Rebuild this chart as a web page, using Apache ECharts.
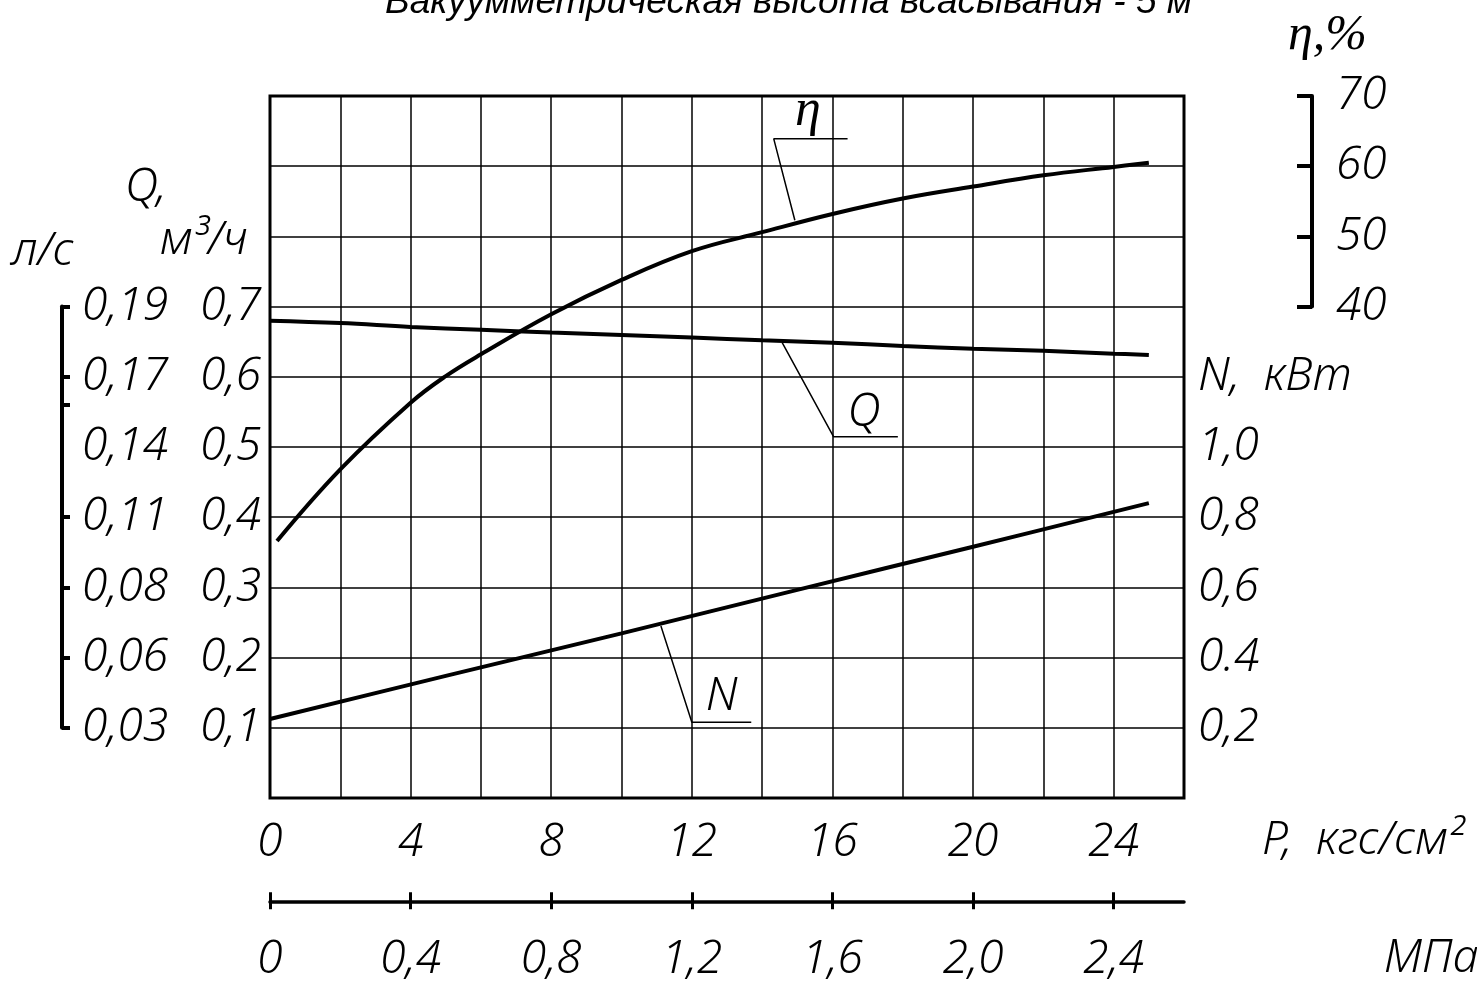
<!DOCTYPE html>
<html>
<head>
<meta charset="utf-8">
<script src="https://cdn.jsdelivr.net/npm/echarts@6/dist/echarts.min.js"></script>
<style>
  html, body { margin: 0; padding: 0; background: #fff; }
  #chart { width: 1477px; height: 981px; }
</style>
</head>
<body>
<div id="chart"></div>
<script>
// КПД, %
const etaP = [0.2, 2, 4, 5, 6, 8, 10, 12, 14, 16, 18, 20, 22, 24, 25]
const etaVal = [6.6, 16.8, 26.3, 30.1, 33.2, 38.9, 43.8, 47.9, 50.6, 53.2, 55.4, 57.1, 58.7, 59.9, 60.5]
// подача Q, м3/ч
const qP = [0, 2, 4, 6, 8, 10, 12, 14, 16, 18, 20, 22, 24, 25]
const qVal = [0.68, 0.6765, 0.671, 0.667, 0.663, 0.6595, 0.656, 0.652, 0.6486, 0.644, 0.64, 0.637, 0.633, 0.631]
// мощность N, кВт
const nP = [0, 5, 10, 15, 20, 25]
const nVal = [0.225, 0.348, 0.469, 0.593, 0.716, 0.84]

// шкалы
const pTicks = [0, 4, 8, 12, 16, 20, 24]
const pLabels = ['0', '4', '8', '12', '16', '20', '24']
const mpaTicks = [0, 0.4, 0.8, 1.2, 1.6, 2.0, 2.4]
const mpaLabels = ['0', '0,4', '0,8', '1,2', '1,6', '2,0', '2,4']
const qTicks = [0.1, 0.2, 0.3, 0.4, 0.5, 0.6, 0.7]
const qLabels = ['0,1', '0,2', '0,3', '0,4', '0,5', '0,6', '0,7']
const lsLabels = ['0,03', '0,06', '0,08', '0,11', '0,14', '0,17', '0,19']
const lsTicks = [0.1, 0.2, 0.3, 0.4, 0.56, 0.6, 0.7]
const nTicks = [0.2, 0.4, 0.6, 0.8, 1.0, 1.2]
const nLabels = ['0,2', '0.4', '0,6', '0,8', '1,0', 'N,  кВт']
const etaTicks = [40, 50, 60, 70]
const etaLabels = ['40', '50', '60', '70']

// выноски: [P, значение]
const etaLeader = [[14.93, 52.3], [14.33, 63.9], [16.43, 63.9]]
const qLeader = [[14.57, 0.6486], [16.03, 0.5147], [17.86, 0.5147]]
const nLeader = [[11.12, 0.49], [12.0, 0.2157], [13.69, 0.2157]]
const etaTag = [15.3, 67.8]
const qTag = [16.9, 0.548]
const nTag = [12.85, 0.288]

const gost = "'Noto Sans', 'DejaVu Sans Condensed', sans-serif"
const gostWeight = '300 condensed'
const serif = "'Liberation Serif', 'DejaVu Serif', serif"

const pick = (ticks, labels) => (v) => {
  const i = ticks.findIndex((t) => Math.abs(t - v) < 1e-6)
  return i < 0 ? '' : labels[i]
}
const zip = (xs, ys) => xs.map((x, i) => [x, ys[i]])

const txt = {
  color: '#000',
  fontFamily: gost,
  fontStyle: 'italic',
  fontWeight: gostWeight,
  fontSize: 46
}
const gfont = `italic ${gostWeight} 46px ${gost}`
const thick = { color: '#000', width: 4 }
const thin = { color: '#000', width: 1.5 }
const hidden = { color: 'transparent', opacity: 1 }

const chart = echarts.init(document.getElementById('chart'))
const option = {
  animation: false,
  backgroundColor: '#fff',
  title: {
    text: 'Вакуумметрическая высота всасывания - 5 м',
    left: 385,
    top: -16,
    padding: 0,
    textStyle: {
      color: '#000',
      fontFamily: "'Liberation Sans', Arial, sans-serif",
      fontStyle: 'italic',
      fontWeight: 'normal',
      fontSize: 37
    }
  },
  grid: [
    { left: 270, right: 293, top: 96, bottom: 183, show: true, borderColor: '#000', borderWidth: 3 },
    { left: 62, width: 1, top: 306.6, height: 421.2 },
    { left: 1312, width: 1, top: 96, height: 210.6 },
    { left: 270, right: 293, top: 901, height: 1 }
  ],
  xAxis: [
    {
      gridIndex: 0,
      type: 'value',
      min: 0,
      max: 26,
      interval: 2,
      axisLine: { show: false },
      axisTick: { show: false },
      splitLine: { show: true, lineStyle: thin },
      axisLabel: { ...txt, margin: 22, formatter: pick(pTicks, pLabels) }
    },
    { gridIndex: 1, type: 'value', show: false },
    { gridIndex: 2, type: 'value', show: false },
    {
      gridIndex: 3,
      type: 'value',
      min: 0,
      max: 2.6,
      position: 'bottom',
      axisLine: { lineStyle: { color: '#000', width: 3.5 } },
      axisTick: { customValues: mpaTicks, inside: true, length: 9, lineStyle: { color: '#000', width: 3 } },
      splitLine: { show: false },
      axisLabel: { ...txt, customValues: mpaTicks, margin: 36, formatter: pick(mpaTicks, mpaLabels) }
    },
    {
      gridIndex: 3,
      type: 'value',
      min: 0,
      max: 2.6,
      position: 'bottom',
      axisLine: { show: false },
      axisTick: { customValues: mpaTicks, inside: false, length: 8, lineStyle: { color: '#000', width: 3 } },
      splitLine: { show: false },
      axisLabel: { show: false }
    }
  ],
  yAxis: [
    {
      gridIndex: 0,
      type: 'value',
      min: 0,
      max: 1,
      interval: 0.1,
      position: 'left',
      axisLine: { show: false },
      axisTick: { show: false },
      splitLine: { show: true, lineStyle: thin },
      axisLabel: { ...txt, margin: 9, formatter: pick(qTicks, qLabels) }
    },
    {
      gridIndex: 0,
      type: 'value',
      min: 0,
      max: 2,
      interval: 0.2,
      position: 'right',
      axisLine: { show: false },
      axisTick: { show: false },
      splitLine: { show: false },
      axisLabel: { ...txt, margin: 14, padding: [20, 0, 0, 0], formatter: pick(nTicks, nLabels) }
    },
    { gridIndex: 0, type: 'value', min: -30, max: 70, show: false },
    {
      gridIndex: 1,
      type: 'value',
      min: 0.1,
      max: 0.7,
      interval: 0.1,
      position: 'left',
      axisLine: { lineStyle: thick },
      axisTick: { customValues: lsTicks, inside: true, length: 8, lineStyle: thick },
      splitLine: { show: false },
      axisLabel: { ...txt, inside: true, margin: 20, formatter: pick(qTicks, lsLabels) }
    },
    {
      gridIndex: 2,
      type: 'value',
      min: 40,
      max: 70,
      interval: 10,
      position: 'right',
      axisLine: { lineStyle: thick },
      axisTick: { inside: true, length: 15, lineStyle: thick },
      splitLine: { show: false },
      axisLabel: { ...txt, margin: 23, formatter: pick(etaTicks, etaLabels) }
    },
    { gridIndex: 3, type: 'value', show: false }
  ],
  graphic: [
    { type: 'text', x: 125, y: 188, style: { text: 'Q,', font: gfont, fill: '#000', verticalAlign: 'middle' } },
    { type: 'text', x: 160, y: 241, style: { text: 'м³/ч', font: gfont, fill: '#000', verticalAlign: 'middle' } },
    { type: 'text', x: 12, y: 252, style: { text: 'л/с', font: gfont, fill: '#000', verticalAlign: 'middle' } },
    { type: 'text', x: 1288, y: 36, style: { text: 'η,%', font: `italic 50px ${serif}`, fill: '#000', verticalAlign: 'middle' } },
    { type: 'text', x: 1262, y: 841, style: { text: 'P,  кгс/см²', font: gfont, fill: '#000', verticalAlign: 'middle' } },
    { type: 'text', x: 1384, y: 959, style: { text: 'МПа', font: gfont, fill: '#000', verticalAlign: 'middle' } }
  ],
  series: [
    {
      name: 'η',
      type: 'line',
      xAxisIndex: 0,
      yAxisIndex: 2,
      data: zip(etaP, etaVal),
      smooth: 0.4,
      symbol: 'none',
      lineStyle: thick
    },
    {
      name: 'Q',
      type: 'line',
      xAxisIndex: 0,
      yAxisIndex: 0,
      data: zip(qP, qVal),
      smooth: 0.4,
      symbol: 'none',
      lineStyle: thick
    },
    {
      name: 'N',
      type: 'line',
      xAxisIndex: 0,
      yAxisIndex: 1,
      data: zip(nP, nVal),
      smooth: 0.4,
      symbol: 'none',
      lineStyle: thick
    },
    { type: 'line', xAxisIndex: 0, yAxisIndex: 2, data: etaLeader, symbol: 'none', lineStyle: thin },
    { type: 'line', xAxisIndex: 0, yAxisIndex: 0, data: qLeader, symbol: 'none', lineStyle: thin },
    { type: 'line', xAxisIndex: 0, yAxisIndex: 1, data: nLeader, symbol: 'none', lineStyle: thin },
    {
      type: 'scatter',
      xAxisIndex: 0,
      yAxisIndex: 2,
      data: [etaTag],
      symbolSize: 1,
      itemStyle: hidden,
      label: { show: true, position: 'inside', formatter: 'η', color: '#000', textBorderWidth: 0, fontFamily: serif, fontStyle: 'italic', fontSize: 52 }
    },
    {
      type: 'scatter',
      xAxisIndex: 0,
      yAxisIndex: 0,
      data: [qTag],
      symbolSize: 1,
      itemStyle: hidden,
      label: { show: true, position: 'inside', formatter: 'Q', textBorderWidth: 0, ...txt }
    },
    {
      type: 'scatter',
      xAxisIndex: 0,
      yAxisIndex: 1,
      data: [nTag],
      symbolSize: 1,
      itemStyle: hidden,
      label: { show: true, position: 'inside', formatter: 'N', textBorderWidth: 0, ...txt }
    }
  ]
}
option && chart.setOption(option)
</script>
</body>
</html>
